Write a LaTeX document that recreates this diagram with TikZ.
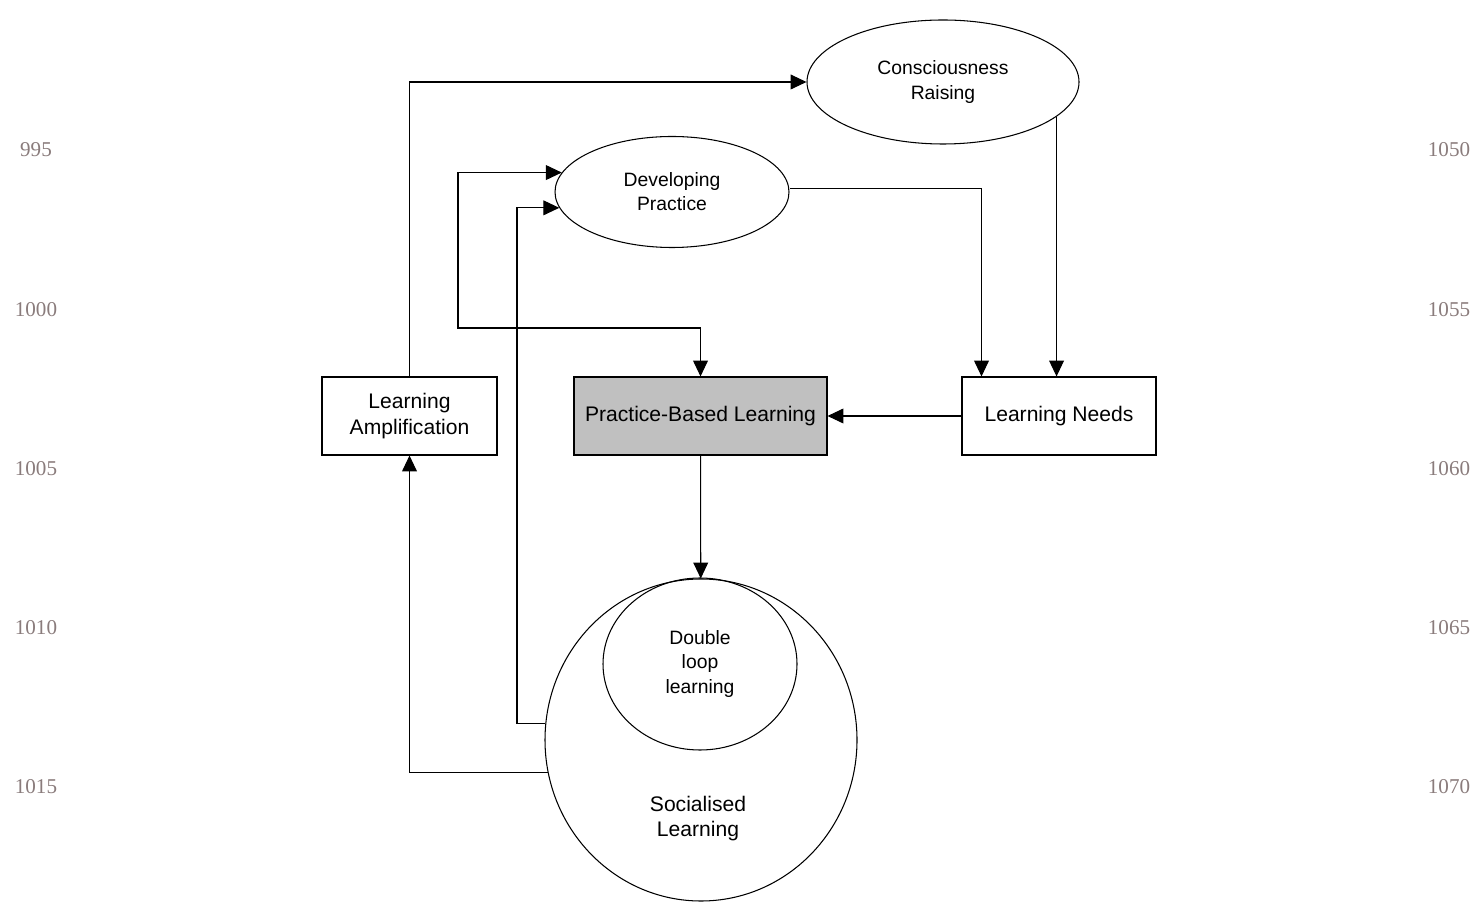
\documentclass[tikz,border=0pt]{standalone}
\usepackage{fontspec}
\setmainfont{Liberation Sans}
\newfontfamily\numfont{Liberation Serif}
\usetikzlibrary{arrows.meta,shapes}
\definecolor{numgray}{RGB}{138,124,124}

\begin{document}
\begin{tikzpicture}[->,>={Triangle[length=9pt,width=8.4pt]},line width=0.6pt]
\tikzset{
  box/.style={rectangle,draw,inner sep=0pt,minimum height=1.56cm,align=center,font=\fontsize{12}{14.7}\selectfont},
  oval/.style={ellipse,draw,inner sep=0pt,align=center,font=\fontsize{11}{13.7}\selectfont},
  num/.style={text=numgray,font=\numfont\fontsize{12}{14}\selectfont}
}
\useasboundingbox (0,0) rectangle (29.48,18.04);
% line numbers
\foreach \l/\r [count=\i from 0] in {995/1050,1000/1055,1005/1060,1010/1065,1015/1070} {
  \node[num] at (0.72,15.04-3.185*\i) (l\i) {\l};
  \node[num] at (28.98,15.04-3.185*\i) (r\i) {\r};
}
\node[oval,minimum width=5.44cm,minimum height=2.48cm] at (18.86,16.40) (cr) {Consciousness\\Raising};
\node[oval,minimum width=4.68cm,minimum height=2.22cm] at (13.44,14.20) (dp) {Developing\\Practice};
\node[box,minimum width=3.5cm] at (8.19,9.72) (amp) {Learning\\Amplification};
\node[box,minimum width=5.06cm,fill={rgb,255:red,192;green,192;blue,192}] at (14.01,9.72) (pbl) {Practice-Based Learning};
\node[box,minimum width=3.88cm] at (21.18,9.72) (needs) {Learning Needs};
\node[ellipse,draw,inner sep=0pt,minimum width=6.24cm,minimum height=6.44cm] at (14.02,3.24) (soc) {};
\node[oval,minimum width=3.88cm,minimum height=3.44cm] at (14.00,4.76) (dl) {Double\\loop\\learning};
\node[align=center,font=\fontsize{12}{14.2}\selectfont] at (13.96,1.66) (soclabel) {Socialised\\Learning};
\draw (amp) |- (cr);
\draw (cr.-17) -- (cr.-17 |- needs.north);
\draw ([yshift=0.07cm]dp.east) -| ([xshift=-1.55cm]needs.north);
\draw (needs) -- (pbl);
\draw[<->] (pbl.north) |- (9.16,11.48) |- (dp.170);
\draw (pbl) -- (soc);
\draw (soc.174) -| (10.34,10) |- (dp.188);
\draw (soc.192) -| (amp.south);
\end{tikzpicture}
\end{document}
